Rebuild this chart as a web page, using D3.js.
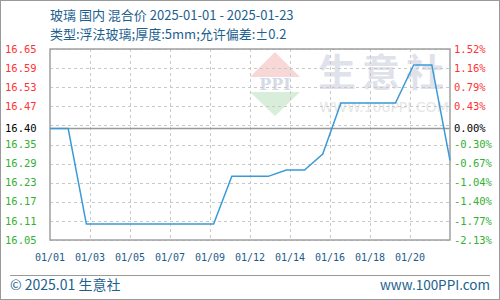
<!DOCTYPE html>
<html>
<head>
<meta charset="utf-8">
<script src="https://cdn.jsdelivr.net/npm/d3@7"></script>
<style>
  html, body { margin: 0; padding: 0; background: #fff; }
  svg { display: block; }
</style>
</head>
<body>
<div id="chart"></div>
<script>
// data
const dates = ["01/01","01/02","01/03","01/04","01/05","01/06","01/07","01/08","01/09","01/10","01/11",
               "01/12","01/13","01/14","01/15","01/16","01/17","01/18","01/19","01/20","01/21","01/22","01/23"];
const prices = [16.40, 16.40, 16.10, 16.10, 16.10, 16.10, 16.10, 16.10, 16.10, 16.10, 16.25,
                16.25, 16.25, 16.27, 16.27, 16.32, 16.48, 16.48, 16.48, 16.48, 16.60, 16.60, 16.30];
const xTickLabels = ["01/01","01/03","01/05","01/07","01/09","01/12","01/14","01/16","01/18","01/20"];
const leftLabels = ["16.05","16.11","16.17","16.23","16.29","16.35","16.40","16.47","16.53","16.59","16.65"];
const rightLabels = ["-2.13%","-1.77%","-1.40%","-1.04%","-0.67%","-0.30%","0.00%","0.43%","0.79%","1.16%","1.52%"];
const baseValue = 16.40;
const baseIndex = 6;
const yMin = 16.05, yMax = 16.65;

const W = 500, H = 300;
const plot = { left: 50, right: 450, top: 49, bottom: 240 };

const svg = d3.select("#chart").append("svg")
    .attr("width", W)
    .attr("height", H);

// outer frame
svg.append("rect")
    .attr("x", 0.5).attr("y", 0.5)
    .attr("width", W - 1).attr("height", H - 1)
    .attr("fill", "#fff")
    .attr("stroke", "#999");

const x = d3.scaleLinear().domain([0, dates.length - 1]).range([plot.left, plot.right]);
const y = d3.scaleLinear().domain([yMin, yMax]).range([plot.bottom, plot.top]);
const xGrid = d3.scaleLinear().domain([0, 10]).range([plot.left, plot.right]);
const yGrid = d3.scaleLinear().domain([0, leftLabels.length - 1]).range([plot.bottom, plot.top]);

// watermark
const wm = svg.append("g").attr("class", "watermark");
wm.append("path")
    .attr("d", "M275,52 L300,77 L250,77 Z")
    .attr("fill", "#f8d8d6");
wm.append("path")
    .attr("d", "M250,92 L300,92 L275,116 Z")
    .attr("fill", "#d8eedb");
wm.append("text")
    .attr("x", 275).attr("y", 90)
    .attr("text-anchor", "middle")
    .attr("font-family", "DejaVu Serif, serif")
    .attr("font-weight", "bold")
    .attr("font-size", 16)
    .attr("fill", "#d4dbe6")
    .text("PPI");
wm.append("text")
    .attr("x", 384).attr("y", 86)
    .attr("text-anchor", "middle")
    .attr("font-family", "Noto Sans CJK SC")
    .attr("font-weight", "bold")
    .attr("font-size", 38)
    .attr("letter-spacing", 6)
    .attr("fill", "#dfe2ea")
    .text("生意社");
wm.append("text")
    .attr("x", 384).attr("y", 112)
    .attr("text-anchor", "middle")
    .attr("font-family", "DejaVu Sans, sans-serif")
    .attr("font-size", 14)
    .attr("fill", "#e6e6e6")
    .text("WWW.100PPI.COM");

// grid
const grid = svg.append("g")
    .attr("stroke", "#c8c8c8")
    .attr("stroke-dasharray", "3,3")
    .attr("stroke-width", 1);

grid.selectAll("line.h")
    .data(leftLabels)
    .join("line")
    .attr("class", "h")
    .attr("x1", plot.left).attr("x2", plot.right)
    .attr("y1", (d, i) => Math.round(yGrid(i)) + 0.5)
    .attr("y2", (d, i) => Math.round(yGrid(i)) + 0.5);

grid.selectAll("line.v")
    .data(d3.range(1, 10))
    .join("line")
    .attr("class", "v")
    .attr("y1", plot.top).attr("y2", plot.bottom)
    .attr("x1", d => Math.round(xGrid(d)) + 0.5)
    .attr("x2", d => Math.round(xGrid(d)) + 0.5);

// base line
svg.append("line")
    .attr("x1", plot.left).attr("x2", plot.right)
    .attr("y1", y(baseValue)).attr("y2", y(baseValue))
    .attr("stroke", "#999")
    .attr("stroke-width", 1.5);

// plot frame
svg.append("rect")
    .attr("x", plot.left).attr("y", plot.top)
    .attr("width", plot.right - plot.left)
    .attr("height", plot.bottom - plot.top)
    .attr("fill", "none")
    .attr("stroke", "#a0a0a0")
    .attr("stroke-width", 1.5);

// price line
const line = d3.line()
    .x((d, i) => x(i))
    .y(d => y(d));

svg.append("path")
    .datum(prices)
    .attr("fill", "none")
    .attr("stroke", "#3a9ad8")
    .attr("stroke-width", 1.5)
    .attr("d", line);

// axis labels
const labelColor = i => i === baseIndex ? "#000" : (i > baseIndex ? "#ff3333" : "#33b033");
const labelY = i => i === baseIndex ? y(baseValue) : yGrid(i);

svg.append("g")
    .attr("font-family", "DejaVu Sans Mono, monospace")
    .attr("font-size", 10.5)
    .selectAll("text")
    .data(leftLabels)
    .join("text")
    .attr("x", 5)
    .attr("y", (d, i) => labelY(i))
    .attr("dy", "0.35em")
    .attr("fill", (d, i) => labelColor(i))
    .text(d => d);

svg.append("g")
    .attr("font-family", "DejaVu Sans Mono, monospace")
    .attr("font-size", 10.5)
    .selectAll("text")
    .data(rightLabels)
    .join("text")
    .attr("x", 454)
    .attr("y", (d, i) => labelY(i))
    .attr("dy", "0.35em")
    .attr("fill", (d, i) => labelColor(i))
    .text(d => d);

svg.append("g")
    .attr("font-family", "DejaVu Sans Mono, monospace")
    .attr("font-size", 10)
    .attr("fill", "#1d5c8a")
    .selectAll("text")
    .data(xTickLabels)
    .join("text")
    .attr("x", (d, i) => xGrid(i))
    .attr("y", 257)
    .attr("dy", "0.35em")
    .attr("text-anchor", "middle")
    .text(d => d);

// titles
const titleColor = "#1d5f8f";
svg.append("text")
    .attr("x", 50).attr("y", 15)
    .attr("dy", "0.35em")
    .attr("font-family", "Noto Sans CJK SC")
    .attr("font-size", 13)
    .attr("fill", titleColor)
    .text("玻璃 国内 混合价 2025-01-01 - 2025-01-23");
svg.append("text")
    .attr("x", 50).attr("y", 34)
    .attr("dy", "0.35em")
    .attr("font-family", "Noto Sans CJK SC")
    .attr("font-size", 13)
    .attr("fill", titleColor)
    .text("类型:浮法玻璃;厚度:5mm;允许偏差:±0.2");

// footer
svg.append("line")
    .attr("x1", 10).attr("x2", 490)
    .attr("y1", 275.5).attr("y2", 275.5)
    .attr("stroke", "#999");
svg.append("text")
    .attr("x", 10).attr("y", 285)
    .attr("dy", "0.35em")
    .attr("font-family", "Noto Sans CJK SC")
    .attr("font-size", 14)
    .attr("fill", titleColor)
    .text("© 2025.01 生意社");
svg.append("text")
    .attr("x", 490).attr("y", 285)
    .attr("dy", "0.35em")
    .attr("text-anchor", "end")
    .attr("font-family", "Noto Sans CJK SC")
    .attr("font-size", 13.5)
    .attr("fill", titleColor)
    .text("www.100PPI.com");
</script>
</body>
</html>
